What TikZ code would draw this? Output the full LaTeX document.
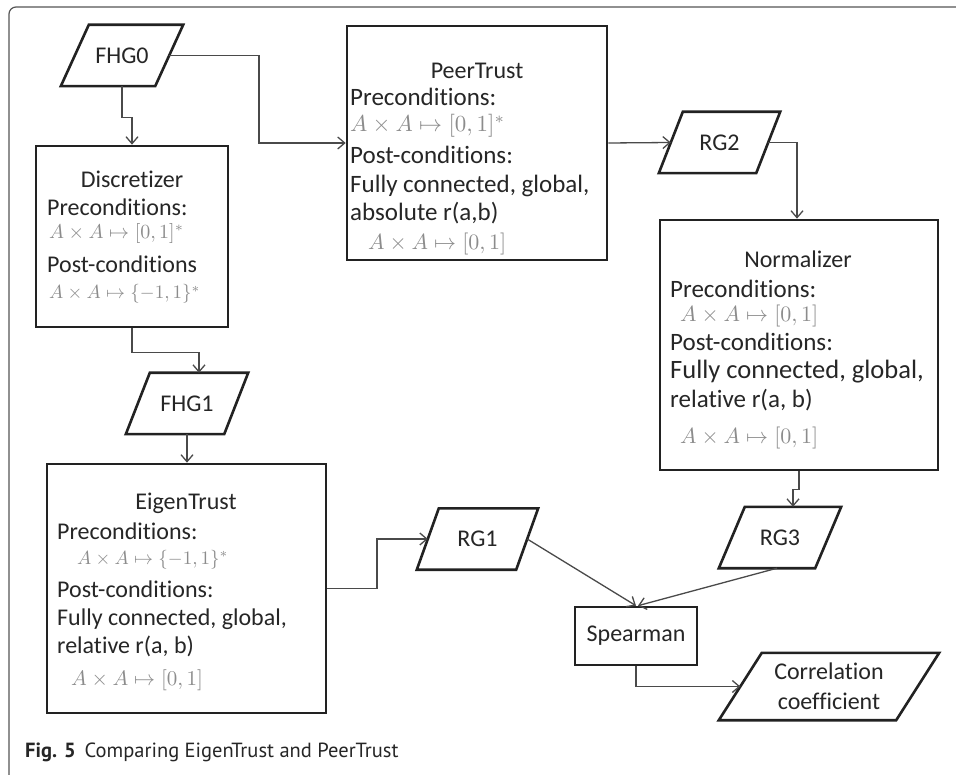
\documentclass[tikz,border=0pt]{standalone}
\usepackage{graphicx}
\usepackage[no-math]{fontspec}
\setmainfont[Ligatures={NoCommon,NoContextual},Contextuals=NoAlternate]{Carlito}
\newfontfamily\capfont{PT Sans}
\usetikzlibrary{arrows.meta,calc}
\definecolor{boxc}{HTML}{222222}
\definecolor{linec}{HTML}{4A4A4A}
\definecolor{framec}{HTML}{555555}
\definecolor{mathc}{HTML}{8C8C8C}
\definecolor{txtc}{HTML}{262626}
\newcommand\mth[2]{\scalebox{\fpeval{#1/10}}{\fontsize{10}{10}\selectfont\color{mathc}$#2$}}
\newcommand\fs[1]{\fontsize{#1}{#1}\selectfont}
\newcommand\Prec{Precondit\kern0pt ions:}
\newcommand\Postc{Post-condit\kern0pt ions}
\newcommand\paral[2]{\draw[parab] ([xshift=-#2]#1.south west) -- ([xshift=#2]#1.north west) -- ([xshift=#2]#1.north east) -- ([xshift=-#2]#1.south east) -- cycle;}
\begin{document}
\begin{tikzpicture}[x=1pt,y=-1pt,
  procbox/.style={draw=boxc, line width=2.6pt, inner sep=0pt},
  paranode/.style={inner sep=0pt, minimum height=61pt, text=txtc, font=\fs{24}},
  parab/.style={draw=boxc, line width=2.6pt, line join=miter},
  conn/.style={draw=linec, line width=1.3pt, -{Straight Barb[length=7pt,width=12pt]}},
  tl/.style={anchor=base west, inner sep=0pt, text=txtc, font=\fs{24}},
  ttl/.style={anchor=base, inner sep=0pt, text=txtc, font=\fs{24}},
  ml/.style={anchor=base west, inner sep=0pt},
]
\useasboundingbox (0,0) rectangle (956,775);
\fill[white] (0,0) rectangle (956,775);
% frame
\draw[draw=framec, line width=1.2pt, rounded corners=7pt] (970,7) -- (9,7) -- (9,786) -- (40,786);

% parallelogram nodes
\node[paranode, minimum width=94pt] (f0) at (122,55.5) {FHG0};
\node[paranode, minimum width=98pt] (f1) at (187,403.5) {FHG1};
\node[paranode, minimum width=97pt] (rg2) at (719.5,142.5) {RG2};
\node[paranode, minimum width=99pt] (rg1) at (477.5,539) {RG1};
\node[paranode, minimum width=96pt] (rg3) at (780,537.5) {RG3};
\node[paranode, minimum width=177pt, minimum height=67pt, align=center, font=\fontsize{24}{30}\selectfont] (corr) at (829,686.5) {Correlation\\coefficient};
\paral{f0}{14pt}
\paral{f1}{12pt}
\paral{rg2}{12pt}
\paral{rg1}{11pt}
\paral{rg3}{13pt}
\paral{corr}{21.5pt}

% process boxes
\node[procbox, minimum width=192pt, minimum height=181pt] (disc) at (132,236.5) {};
\node[procbox, minimum width=260pt, minimum height=234pt] (pt) at (477,143) {};
\node[procbox, minimum width=278pt, minimum height=250pt] (nm) at (799,345) {};
\node[procbox, minimum width=279pt, minimum height=249pt] (et) at (186.5,588.5) {};
\node[procbox, minimum width=122pt, minimum height=58pt, text=txtc, font=\fs{24}] (sp) at (636,636) {Spearman};

% Discretizer text
\node[ttl] (discT) at (132,188) {Discretizer};
\node[tl] (discP) at (47,216) {\Prec};
\node[ml] (discM1) at (49,239) {\mth{20}{A\times A\mapsto[0,1]^*}};
\node[tl] (discQ) at (47,273) {\Postc};
\node[ml] (discM2) at (49,299) {\mth{19}{A\times A\mapsto\{-1,1\}^*}};

% PeerTrust text
\node[ttl] (ptT) at (477,79) {PeerTrust};
\node[tl, font=\fs{25}] (ptP) at (350,106) {\Prec};
\node[ml] (ptM1) at (350,132) {\mth{23}{A\times A\mapsto[0,1]^*}};
\node[tl, font=\fs{25}] (ptQ) at (350,164) {\Postc:};
\node[tl, font=\fs{25}] (ptF) at (350,193) {Fully connected, global,};
\node[tl, font=\fs{25}] (ptA) at (350,221) {absolute r(a,b)};
\node[ml] (ptM2) at (368,250) {\mth{22}{A\times A\mapsto[0,1]}};

% Normalizer text
\node[ttl] (nmT) at (798,268) {Normalizer};
\node[tl, font=\fs{25}] (nmP) at (670,298) {\Prec};
\node[ml] (nmM1) at (680,322) {\mth{22}{A\times A\mapsto[0,1]}};
\node[tl, font=\fs{25}] (nmQ) at (670,351) {\Postc:};
\node[tl, font=\fs{26.5}] (nmF) at (670,379) {Fully connected, global,};
\node[tl, font=\fs{25}] (nmR) at (670,408) {relative r(a, b)};
\node[ml] (nmM2) at (680,443) {\mth{22}{A\times A\mapsto[0,1]}};

% EigenTrust text
\node[ttl] (etT) at (186,509) {EigenTrust};
\node[tl] (etP) at (57,539) {\Prec};
\node[ml] (etM1) at (77,564) {\mth{19}{A\times A\mapsto\{-1,1\}^*}};
\node[tl] (etQ) at (57,597) {\Postc:};
\node[tl] (etF) at (57,625) {Fully connected, global,};
\node[tl] (etR) at (57,653) {relative r(a, b)};
\node[ml] (etM2) at (71,685) {\mth{21}{A\times A\mapsto[0,1]}};

% caption
\node[anchor=base west, inner sep=0pt, text=txtc, font=\capfont\fs{20.5}] (cap) at (25,757) {\textbf{Fig. 5}\hspace{9pt}Comparing EigenTrust and PeerTrust};

% connectors
\draw[conn] (f0.south) -- ++(0,31.5) -| (disc.north);
\draw[conn] (f0.east) -| (259,100) |- (pt.west);
\draw[conn] (pt.east) -- (rg2.west);
\draw[conn] (rg2.east) -| ([xshift=-2pt]nm.north);
\draw[conn] (nm.south) -- ++(0,18) -| ([xshift=13pt]rg3.north);
\draw[conn] (disc.south) -- ++(0,24) -| ([xshift=12pt]f1.north);
\draw[conn] (f1.south) -- (f1.south |- et.north);
\draw[conn] (et.east) -| (377,560) |- (rg1.west);
\draw[conn] (rg1.east) -- (sp.north);
\draw[conn] ([xshift=-3pt]rg3.south) -- ([xshift=2pt]sp.north);
\draw[conn] (sp.south) |- (corr.west);
\end{tikzpicture}
\end{document}
